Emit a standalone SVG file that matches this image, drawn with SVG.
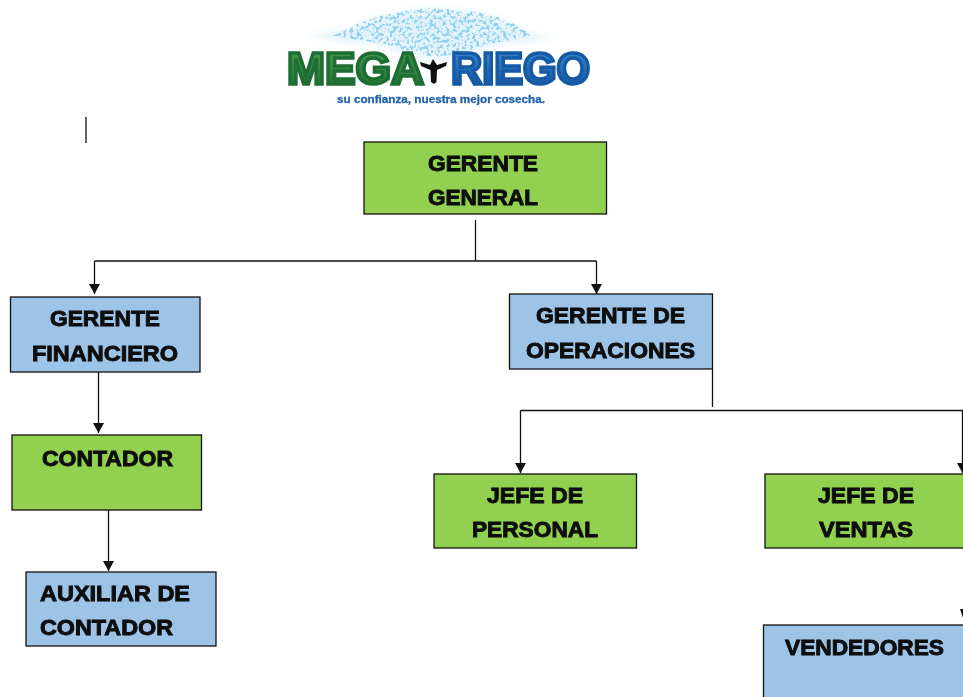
<svg xmlns="http://www.w3.org/2000/svg" width="963" height="697" viewBox="0 0 963 697">
<style>
.b{stroke:#111;stroke-width:1.3}
.blue{fill:#9dc3e6}
.green{fill:#92d050}
.t{font:bold 22px "Liberation Sans",Arial,sans-serif;fill:#0a0a0a;stroke:#0a0a0a;stroke-width:.9;filter:url(#soft)}
.c{fill:none;stroke:#111;stroke-width:1.3}
.logo{font:bold 44px "Liberation Sans",Arial,sans-serif;stroke-width:3.4;filter:url(#soft)}
</style>
<defs>
<marker id="a" markerWidth="12" markerHeight="12" refX="10" refY="5.500" orient="auto" markerUnits="userSpaceOnUse"><path d="M0 0L10 5.500L0 11Z" fill="#111"/></marker>
<filter id="soft" x="-5%" y="-10%" width="110%" height="120%"><feGaussianBlur stdDeviation=".4"/></filter>
<filter id="spray" x="-5%" y="-5%" width="110%" height="110%">
<feTurbulence type="fractalNoise" baseFrequency=".3" numOctaves="2" seed="7" result="n"/>
<feColorMatrix in="n" type="matrix" values="0 0 0 0 0 0 0 0 0 0 0 0 0 0 0 0 0 0 7 -3.500" result="m"/>
<feComposite in="SourceGraphic" in2="m" operator="in"/>
<feGaussianBlur stdDeviation=".7"/>
</filter>
<filter id="hz" x="-10%" y="-20%" width="120%" height="140%"><feGaussianBlur stdDeviation="3"/></filter>
<linearGradient id="gm" x1="0" y1="0" x2="0" y2="1"><stop offset="0" stop-color="#4f9f55"/><stop offset="1" stop-color="#1c6a2e"/></linearGradient>
<linearGradient id="gr" x1="0" y1="0" x2="0" y2="1"><stop offset="0" stop-color="#3f8fd2"/><stop offset="1" stop-color="#0f4f9c"/></linearGradient>
</defs>

<g id="logo">
<path d="M305 36L352 28L378 17L404 11L432 8L462 11L490 15L512 24L528 33L555 37L490 46L450 58L425 58L385 46Z" fill="#e2f3fb" filter="url(#hz)"/>
<path d="M333 36L352 26L376 17L402 11L432 8L462 10L490 14L512 23L527 32L530 36L490 44L450 56L425 56L385 44Z" fill="#8fd0ee" filter="url(#spray)"/>
<text class="logo" x="287" y="84" textLength="137" lengthAdjust="spacingAndGlyphs" fill="url(#gm)" stroke="#1f6e32">MEGA</text>
<text class="logo" x="451" y="84" textLength="139" lengthAdjust="spacingAndGlyphs" fill="url(#gr)" stroke="#125aa6">RIEGO</text>
<path d="M420 62L430 65L433 59L437 65L447 62L446 66L437 70L436.500 82L434 84L431 82L430.500 70L421 66Z" fill="#111"/>
<text x="337" y="102.500" textLength="208" lengthAdjust="spacingAndGlyphs" stroke="#2362a8" stroke-width=".3" style="font:bold 11px 'Liberation Sans',Arial,sans-serif;filter:url(#soft)" fill="#2362a8">su confianza, nuestra mejor cosecha.</text>
</g>

<g id="connectors">
<path class="c" d="M86 117V143"/>
<path class="c" d="M475.500 220V261"/>
<path class="c" d="M94.500 261H596.500"/>
<path class="c" d="M94.500 261V294" marker-end="url(#a)"/>
<path class="c" d="M596.500 261V294" marker-end="url(#a)"/>
<path class="c" d="M98.500 372V433" marker-end="url(#a)"/>
<path class="c" d="M108.500 510V571" marker-end="url(#a)"/>
<path class="c" d="M712.500 369V407"/>
<path class="c" d="M520.500 410.500H963"/>
<path class="c" d="M520.500 410.500V473" marker-end="url(#a)"/>
<path class="c" d="M962.500 410.500V473" marker-end="url(#a)"/>
<path d="M960 609L963 609L963 618Z" fill="#111"/>
</g>

<g id="gerente-general">
<rect class="b green" x="364" y="142" width="242.500" height="72"/>
<text class="t" x="428" y="171" textLength="110" lengthAdjust="spacingAndGlyphs">GERENTE</text>
<text class="t" x="428" y="205" textLength="110" lengthAdjust="spacingAndGlyphs">GENERAL</text>
</g>
<g id="gerente-financiero">
<rect class="b blue" x="10.500" y="297" width="189.500" height="75"/>
<text class="t" x="50" y="326" textLength="110" lengthAdjust="spacingAndGlyphs">GERENTE</text>
<text class="t" x="32" y="361" textLength="146" lengthAdjust="spacingAndGlyphs">FINANCIERO</text>
</g>
<g id="gerente-operaciones">
<rect class="b blue" x="509.500" y="294" width="203" height="75"/>
<text class="t" x="536" y="323" textLength="149" lengthAdjust="spacingAndGlyphs">GERENTE DE</text>
<text class="t" x="526" y="358" textLength="169" lengthAdjust="spacingAndGlyphs">OPERACIONES</text>
</g>
<g id="contador">
<rect class="b green" x="12" y="435" width="189.500" height="75"/>
<text class="t" x="42" y="466" textLength="131" lengthAdjust="spacingAndGlyphs">CONTADOR</text>
</g>
<g id="auxiliar">
<rect class="b blue" x="26" y="572" width="190" height="74"/>
<text class="t" x="40" y="601" textLength="150" lengthAdjust="spacingAndGlyphs">AUXILIAR DE</text>
<text class="t" x="40" y="635" textLength="133" lengthAdjust="spacingAndGlyphs">CONTADOR</text>
</g>
<g id="jefe-personal">
<rect class="b green" x="434" y="474" width="202.500" height="74"/>
<text class="t" x="487" y="503" textLength="96" lengthAdjust="spacingAndGlyphs">JEFE DE</text>
<text class="t" x="472" y="537" textLength="126" lengthAdjust="spacingAndGlyphs">PERSONAL</text>
</g>
<g id="jefe-ventas">
<rect class="b green" x="765" y="474" width="210" height="74"/>
<text class="t" x="818" y="503" textLength="96" lengthAdjust="spacingAndGlyphs">JEFE DE</text>
<text class="t" x="819" y="537" textLength="94" lengthAdjust="spacingAndGlyphs">VENTAS</text>
</g>
<g id="vendedores">
<rect class="b blue" x="763.500" y="625" width="212" height="90"/>
<text class="t" x="785" y="655" textLength="159" lengthAdjust="spacingAndGlyphs">VENDEDORES</text>
</g>
</svg>
